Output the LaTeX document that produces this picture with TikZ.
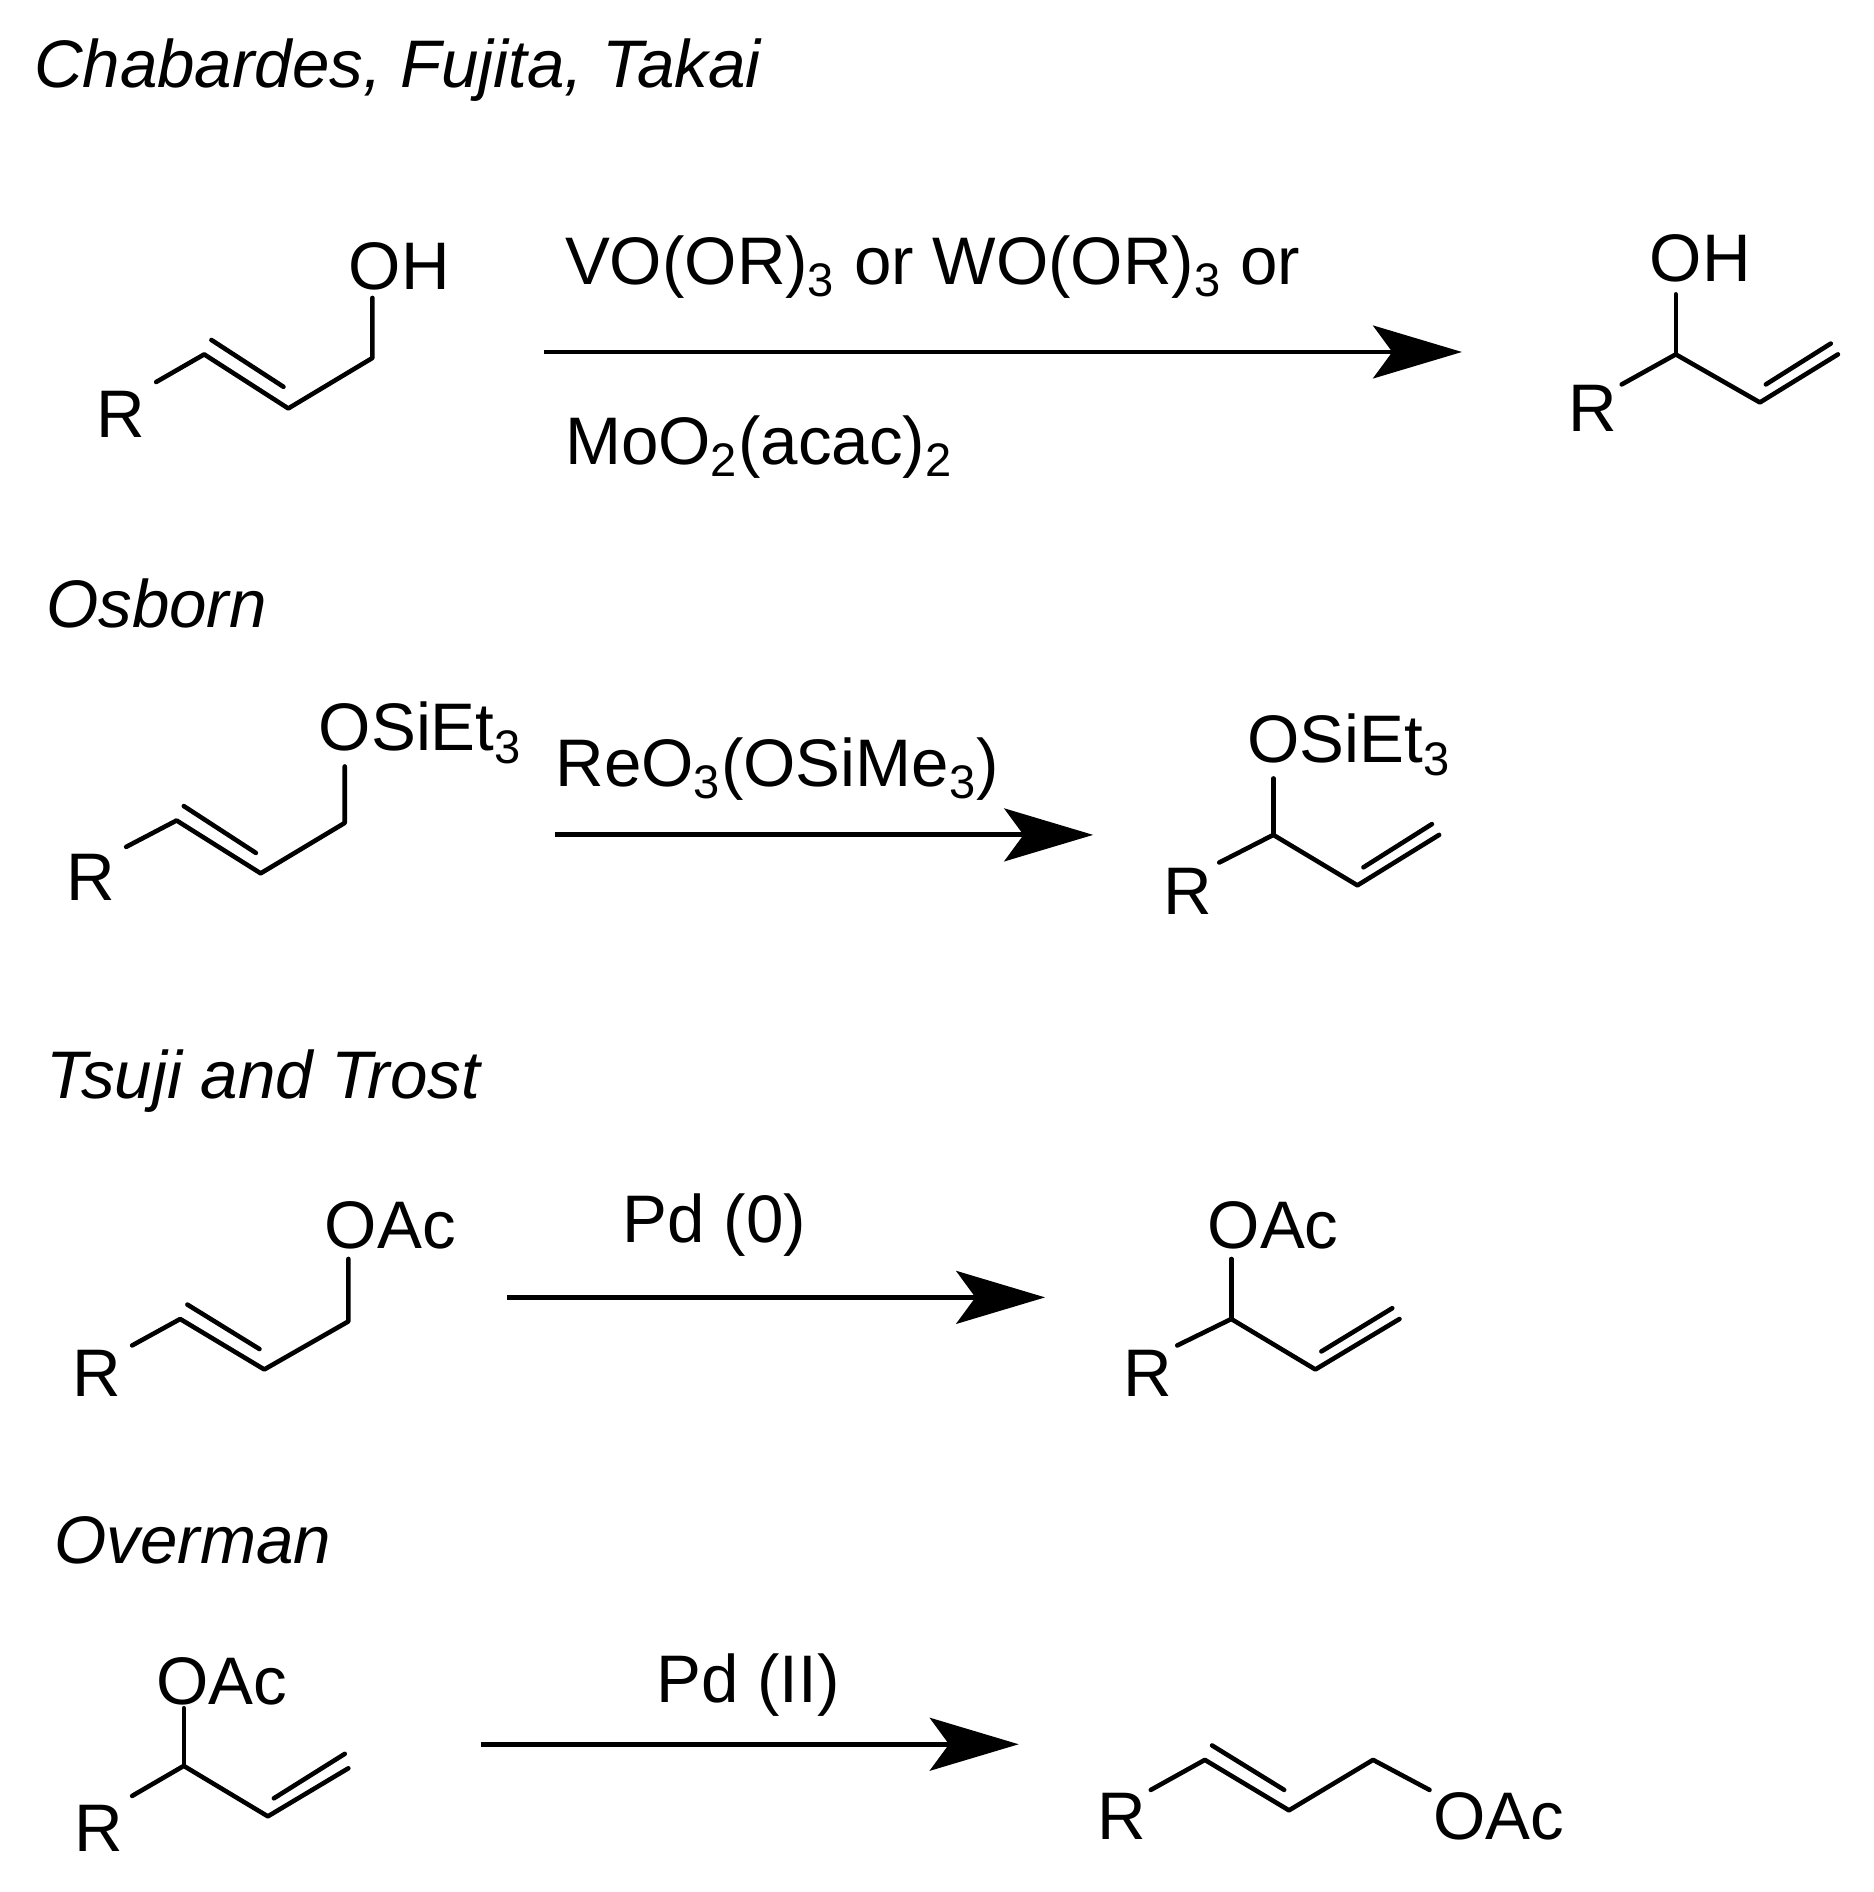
\documentclass[tikz,border=0pt]{standalone}
\usepackage{fontspec}
\setmainfont{Liberation Sans}
\usetikzlibrary{arrows.meta}
\begin{document}
\begin{tikzpicture}[x=0.5pt,y=-0.5pt,
  txt/.style={inner sep=0pt,font=\fontsize{28}{32}\selectfont,anchor=west},
  ttl/.style={txt,font=\fontsize{28}{32}\selectfont\itshape},
  bond/.style={line width=1.9pt,line cap=round,line join=round},
  rxn/.style={line width=2pt,-{Stealth[length=37pt,width=22pt,inset=8pt]}}]
\useasboundingbox (0,0) rectangle (1560,1575);
% ---- row 1
\node[ttl] (t1) at (28,58) {Chabardes, Fujita, Takai};
\node[txt] (r1R) at (80,345) {R};
\coordinate (a1) at (130,318); \coordinate (a2) at (170,295); \coordinate (a3) at (240,340); \coordinate (a4) at (310,298); \coordinate (a5) at (310,248);
\node[txt] (r1OH) at (290,222) {OH};
\draw[bond] (a1)--(a2)--(a3)--(a4)--(a5);
\draw[bond] (176,283)--(236,322);
\coordinate (s1) at (453,293); \coordinate (e1) at (1217,293);
\draw[rxn] (s1)--(e1);
\node[txt] (l1a) at (470,222) {VO(OR)\textsubscript{3} or WO(OR)\textsubscript{3} or};
\node[txt] (l1b) at (470,372) {MoO\textsubscript{2}(acac)\textsubscript{2}};
\node[txt] (p1R) at (1305,340) {R};
\coordinate (b1) at (1350,320); \coordinate (b2) at (1395,295); \coordinate (b3) at (1465,335); \coordinate (b4) at (1530,295); \coordinate (b5) at (1395,245);
\node[txt] (p1OH) at (1373,215) {OH};
\draw[bond] (b1)--(b2)--(b3)--(b4); \draw[bond] (b2)--(b5);
\draw[bond] (1470,320)--(1524,286);
% ---- row 2
\node[ttl] (t2) at (38,502) {Osborn};
\node[txt] (r2R) at (55,730) {R};
\coordinate (c1) at (105,705); \coordinate (c2) at (147,683); \coordinate (c3) at (217,727); \coordinate (c4) at (287,685); \coordinate (c5) at (287,638);
\node[txt] (r2O) at (265,610) {OSiEt\textsubscript{3}};
\draw[bond] (c1)--(c2)--(c3)--(c4)--(c5);
\draw[bond] (153,671)--(213,710);
\coordinate (s2) at (462,695); \coordinate (e2) at (910,695);
\draw[rxn] (s2)--(e2);
\node[txt] (l2) at (462,640) {ReO\textsubscript{3}(OSiMe\textsubscript{3})};
\node[txt] (p2R) at (968,742) {R};
\coordinate (d1) at (1015,718); \coordinate (d2) at (1060,695); \coordinate (d3) at (1130,737); \coordinate (d4) at (1198,695); \coordinate (d5) at (1060,648);
\node[txt] (p2O) at (1038,620) {OSiEt\textsubscript{3}};
\draw[bond] (d1)--(d2)--(d3)--(d4); \draw[bond] (d2)--(d5);
\draw[bond] (1135,722)--(1192,686);
% ---- row 3
\node[ttl] (t3) at (38,900) {Tsuji and Trost};
\node[txt] (r3R) at (60,1143) {R};
\coordinate (f1) at (110,1120); \coordinate (f2) at (150,1098); \coordinate (f3) at (220,1140); \coordinate (f4) at (290,1100); \coordinate (f5) at (290,1048);
\node[txt] (r3O) at (270,1020) {OAc};
\draw[bond] (f1)--(f2)--(f3)--(f4)--(f5);
\draw[bond] (156,1086)--(216,1123);
\coordinate (s3) at (422,1080); \coordinate (e3) at (870,1080);
\draw[rxn] (s3)--(e3);
\node[txt] (l3) at (518,1020) {Pd (0)};
\node[txt] (p3R) at (935,1143) {R};
\coordinate (g1) at (980,1120); \coordinate (g2) at (1025,1098); \coordinate (g3) at (1095,1140); \coordinate (g4) at (1165,1098); \coordinate (g5) at (1025,1048);
\node[txt] (p3O) at (1005,1020) {OAc};
\draw[bond] (g1)--(g2)--(g3)--(g4); \draw[bond] (g2)--(g5);
\draw[bond] (1100,1125)--(1159,1089);
% ---- row 4
\node[ttl] (t4) at (45,1282) {Overman};
\node[txt] (r4O) at (130,1400) {OAc};
\node[txt] (r4R) at (62,1522) {R};
\coordinate (h1) at (110,1495); \coordinate (h2) at (153,1470); \coordinate (h3) at (223,1512); \coordinate (h4) at (290,1472); \coordinate (h5) at (153,1422);
\draw[bond] (h1)--(h2)--(h3)--(h4); \draw[bond] (h2)--(h5);
\draw[bond] (228,1497)--(287,1460);
\coordinate (s4) at (400,1452); \coordinate (e4) at (848,1452);
\draw[rxn] (s4)--(e4);
\node[txt] (l4) at (546,1403) {Pd (II)};
\node[txt] (p4R) at (913,1512) {R};
\coordinate (k1) at (958,1490); \coordinate (k2) at (1003,1465); \coordinate (k3) at (1073,1507); \coordinate (k4) at (1143,1465); \coordinate (k5) at (1190,1490);
\node[txt] (p4O) at (1193,1512) {OAc};
\draw[bond] (k1)--(k2)--(k3)--(k4)--(k5);
\draw[bond] (1009,1453)--(1069,1490);
\end{tikzpicture}
\end{document}
